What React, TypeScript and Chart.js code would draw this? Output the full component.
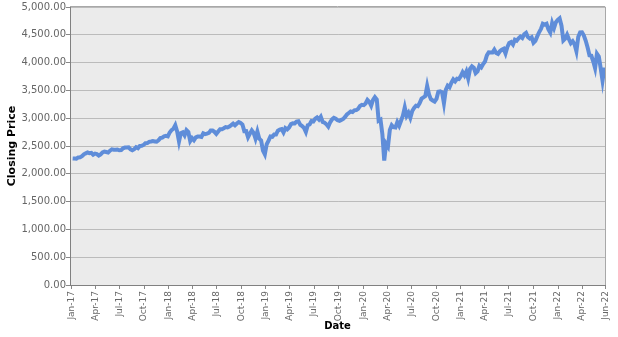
import React, { useEffect, useRef } from "react";
import { Chart, registerables } from "chart.js";

Chart.register(...registerables);

// Weekly (Friday) S&P 500 closes, first week ends 2017-01-06
const firstWeek = "2017-01-06";
const closes2017 = [
  2277, 2275, 2271, 2295, 2297, 2316, 2351, 2367, 2383, 2372, 2378, 2344, 2363,
  2355, 2329, 2349, 2384, 2399, 2391, 2382, 2416, 2439, 2432, 2433, 2438, 2423,
  2425, 2459, 2472, 2472, 2477, 2441, 2425, 2443, 2477, 2461, 2500, 2502, 2519,
  2549, 2553, 2575, 2581, 2588, 2582, 2579, 2602, 2642, 2651, 2675, 2683, 2674,
];
const closes2018 = [
  2743, 2786, 2810, 2873, 2762, 2581, 2732, 2747, 2691, 2786, 2752, 2588, 2641,
  2604, 2656, 2670, 2670, 2663, 2728, 2713, 2721, 2735, 2779, 2780, 2755, 2718,
  2760, 2801, 2802, 2819, 2840, 2833, 2850, 2875, 2902, 2872, 2905, 2930, 2914,
  2886, 2767, 2768, 2659, 2723, 2781, 2736, 2633, 2760, 2633, 2600, 2417, 2351,
];
const closes2019 = [
  2532, 2596, 2671, 2665, 2707, 2708, 2776, 2793, 2804, 2743, 2822, 2800, 2834,
  2893, 2907, 2905, 2940, 2946, 2881, 2860, 2826, 2752, 2873, 2887, 2950, 2942,
  2990, 3014, 2977, 3026, 2932, 2919, 2889, 2847, 2926, 2979, 3007, 2992, 2962,
  2952, 2970, 2986, 3023, 3067, 3093, 3120, 3110, 3141, 3146, 3169, 3221, 3240,
];
const closes2020 = [
  3235, 3265, 3330, 3295, 3226, 3328, 3380, 3338, 2954, 2972, 2711, 2237, 2541,
  2489, 2790, 2875, 2837, 2831, 2930, 2864, 2955, 3044, 3194, 3041, 3098, 3009,
  3130, 3185, 3225, 3216, 3271, 3351, 3373, 3397, 3580, 3427, 3341, 3319, 3298,
  3348, 3477, 3484, 3465, 3270, 3510, 3585, 3558, 3638, 3699, 3663, 3709, 3703,
];
const closes2021 = [
  3756, 3825, 3768, 3841, 3714, 3887, 3934, 3907, 3811, 3842, 3943, 3913, 3975,
  4020, 4129, 4185, 4180, 4181, 4233, 4174, 4156, 4204, 4230, 4247, 4166, 4281,
  4352, 4370, 4327, 4412, 4395, 4437, 4468, 4442, 4509, 4535, 4459, 4433, 4455,
  4357, 4391, 4471, 4545, 4605, 4698, 4683, 4698, 4595, 4538, 4712, 4620, 4726,
  4766,
];
const closes2022 = [
  4796, 4663, 4398, 4432, 4501, 4419, 4349, 4385, 4329, 4204, 4463, 4543, 4546,
  4488, 4393, 4272, 4132, 4123, 4024, 3901, 4158, 4109, 3901, 3675, 3911,
];

const tickDates = [
  "2017-01-01", "2017-04-01", "2017-07-01", "2017-10-01",
  "2018-01-01", "2018-04-01", "2018-07-01", "2018-10-01",
  "2019-01-01", "2019-04-01", "2019-07-01", "2019-10-01",
  "2020-01-01", "2020-04-01", "2020-07-01", "2020-10-01",
  "2021-01-01", "2021-04-01", "2021-07-01", "2021-10-01",
  "2022-01-01", "2022-04-01", "2022-06-27",
];
const tickLabels = [
  "Jan-17", "Apr-17", "Jul-17", "Oct-17",
  "Jan-18", "Apr-18", "Jul-18", "Oct-18",
  "Jan-19", "Apr-19", "Jul-19", "Oct-19",
  "Jan-20", "Apr-20", "Jul-20", "Oct-20",
  "Jan-21", "Apr-21", "Jul-21", "Oct-21",
  "Jan-22", "Apr-22", "Jun-22",
];
const axisStart = "2016-12-27";
const axisEnd = "2022-06-27";
const yTicks = [0, 500, 1000, 1500, 2000, 2500, 3000, 3500, 4000, 4500, 5000];

const DAY = 86400000;
const toMs = (s: string) => Date.parse(s + "T00:00:00Z");

export default function App() {
  const ref = useRef<HTMLCanvasElement | null>(null);
  useEffect(() => {
    const closes = [
      ...closes2017, ...closes2018, ...closes2019,
      ...closes2020, ...closes2021, ...closes2022,
    ];
    const start = toMs(firstWeek);
    const points = closes.map((v, i) => ({ x: start + i * 7 * DAY, y: v }));
    const tickMs = tickDates.map(toMs);

    const bgPlugin = {
      id: "plotbg",
      beforeDraw(chart: any) {
        const { ctx, chartArea: a } = chart;
        ctx.save();
        ctx.fillStyle = "#ebebeb";
        ctx.fillRect(a.left, a.top, a.right - a.left, a.bottom - a.top);
        ctx.restore();
      },
      afterDraw(chart: any) {
        const { ctx, chartArea: a } = chart;
        ctx.save();
        ctx.strokeStyle = "#a8a8a8";
        ctx.lineWidth = 1;
        ctx.beginPath();
        ctx.moveTo(a.left, Math.round(a.top) - 0.5);
        ctx.lineTo(a.right, Math.round(a.top) - 0.5);
        ctx.moveTo(Math.round(a.right) + 0.5, a.top);
        ctx.lineTo(Math.round(a.right) + 0.5, a.bottom);
        ctx.stroke();
        ctx.restore();
      },
    };

    const chart = new Chart(ref.current as HTMLCanvasElement, {
      type: "line",
      data: {
        datasets: [
          {
            data: points,
            borderColor: "#5f8dd9",
            borderWidth: 4,
            pointRadius: 0,
            tension: 0,
            fill: false,
          },
        ],
      },
      options: {
        animation: false,
        responsive: false,
        layout: { padding: { top: 7, right: 5, left: 0, bottom: 0 } },
        plugins: { legend: { display: false }, tooltip: { enabled: false } },
        scales: {
          x: {
            type: "linear",
            min: toMs(axisStart),
            max: toMs(axisEnd),
            afterBuildTicks: (scale: any) => {
              scale.ticks = tickMs.map((v) => ({ value: v }));
            },
            afterFit: (scale: any) => {
              scale.height = 52;
            },
            ticks: {
              autoSkip: false,
              maxRotation: 90,
              minRotation: 90,
              padding: 2,
              color: "#666666",
              font: { family: "DejaVu Sans", size: 9 },
              callback: (v: any) => {
                const i = tickMs.indexOf(Number(v));
                return i >= 0 ? tickLabels[i] : "";
              },
            },
            grid: {
              drawOnChartArea: false,
              drawTicks: true,
              tickLength: 4,
              tickColor: "#888888",
            },
            border: { display: true, color: "#808080", width: 1 },
            title: {
              display: true,
              text: "Date",
              color: "#000000",
              font: { family: "DejaVu Sans", size: 10, weight: "bold" },
              padding: { top: 0, bottom: 5 },
            },
          },
          y: {
            type: "linear",
            min: 0,
            max: 5000,
            afterBuildTicks: (scale: any) => {
              scale.ticks = yTicks.map((v) => ({ value: v }));
            },
            afterFit: (scale: any) => {
              scale.width = 70;
            },
            ticks: {
              padding: 0,
              color: "#666666",
              font: { family: "DejaVu Sans", size: 10 },
              callback: (v: any) =>
                Number(v).toLocaleString("en-US", {
                  minimumFractionDigits: 2,
                  maximumFractionDigits: 2,
                }),
            },
            grid: {
              color: "#bbbbbb",
              lineWidth: 1,
              drawTicks: true,
              tickLength: 4,
              tickColor: "#888888",
            },
            border: { display: true, color: "#808080", width: 1 },
            title: {
              display: true,
              text: "Closing Price",
              color: "#000000",
              font: { family: "DejaVu Sans", size: 11, weight: "bold" },
              padding: { top: 6, bottom: 0 },
            },
          },
        },
      },
      plugins: [bgPlugin],
    } as any);
    return () => chart.destroy();
  }, []);

  return (
    <div style={{ position: "fixed", left: 0, top: 0, width: 618, height: 337, background: "#ffffff" }}>
      <canvas ref={ref} width={618} height={337} style={{ display: "block" }} />
    </div>
  );
}
